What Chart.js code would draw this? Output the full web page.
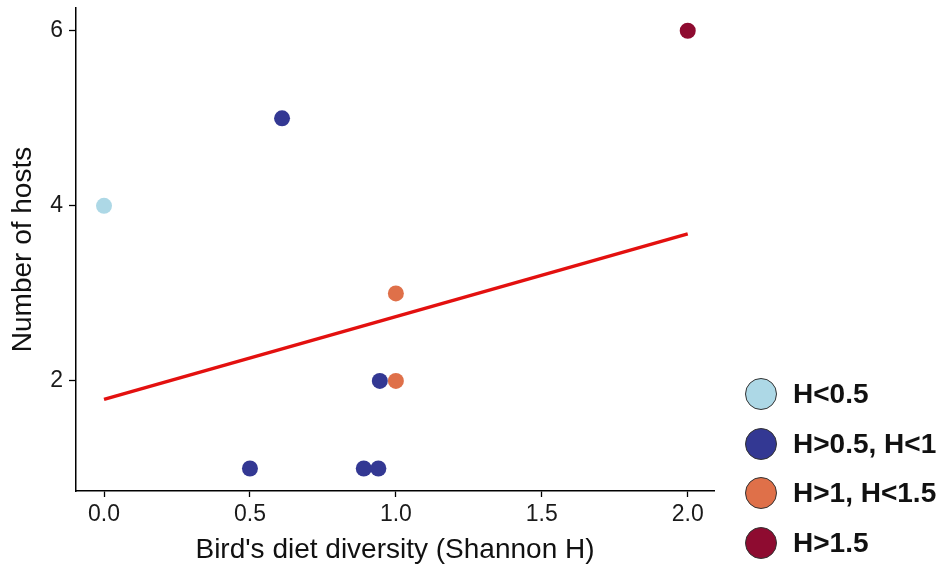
<!DOCTYPE html>
<html>
<head>
<meta charset="utf-8">
<script src="https://cdn.jsdelivr.net/npm/chart.js@4"></script>
<style>
  html, body { margin: 0; padding: 0; background: #fff; }
  #wrap { position: relative; width: 940px; height: 571px; }
  #legend { position: absolute; left: 745px; top: 369px; font: bold 28px "Liberation Sans", Arial, sans-serif; color: #111; }
  .item { display: flex; align-items: center; height: 49.7px; }
  .dot { width: 32px; height: 32px; border-radius: 50%; border: 1.5px solid #333; box-sizing: border-box; margin-right: 16px; }
</style>
</head>
<body>
<div id="wrap">
  <canvas id="chart" width="940" height="571"></canvas>
  <div id="legend"></div>
</div>
<script>
document.addEventListener("DOMContentLoaded", () => {
  // groups of Shannon H
  const groupLabels = ['H<0.5', 'H>0.5, H<1', 'H>1, H<1.5', 'H>1.5'];
  const groupColors = ['#add8e6', '#333893', '#df7049', '#8e0b30'];

  // points per group (diet diversity, number of hosts)
  const lowX = [0.0];
  const lowY = [4];
  const midX = [0.61, 0.50, 0.89, 0.94, 0.945];
  const midY = [5, 1, 1, 1, 2];
  const highX = [1.0, 1.0];
  const highY = [3, 2];
  const topX = [2.0];
  const topY = [6];

  // fitted line
  const fitX = [0, 2.0];
  const fitY = [1.79, 3.68];

  const xTicks = [0, 0.5, 1.0, 1.5, 2.0];
  const yTicks = [2, 4, 6];

  const pts = (xs, ys) => xs.map((x, i) => ({ x: x, y: ys[i] }));
  const groupX = [lowX, midX, highX, topX];
  const groupY = [lowY, midY, highY, topY];

  const datasets = groupLabels.map((label, i) => ({
    type: 'scatter',
    label: label,
    data: pts(groupX[i], groupY[i]),
    backgroundColor: groupColors[i],
    borderWidth: 0,
    pointRadius: 8,
    order: 4 - i
  }));
  datasets.push({
    type: 'line',
    label: 'fit',
    data: pts(fitX, fitY),
    borderColor: '#e3100f',
    borderWidth: 3.5,
    pointRadius: 0,
    order: 10
  });

  const tickFont = { family: '"Liberation Sans", Arial, sans-serif', size: 23 };
  const titleFont = { family: '"Liberation Sans", Arial, sans-serif', size: 28 };

  const ctx = document.getElementById('chart').getContext('2d');
  const chart = new Chart(ctx, {
    data: { datasets: datasets },
    options: {
      responsive: false,
      animation: false,
      layout: { padding: { top: 8, right: 226, left: 0, bottom: 0 } },
      plugins: { legend: { display: false }, tooltip: { enabled: false } },
      scales: {
        x: {
          type: 'linear',
          min: -0.096,
          max: 2.09,
          afterBuildTicks: (axis) => { axis.ticks = xTicks.map(v => ({ value: v })); },
          afterFit: (axis) => { axis.height = 80; axis.paddingLeft = 0; axis.paddingRight = 0; },
          ticks: { font: tickFont, color: '#1a1a1a', padding: 4, callback: (v) => v.toFixed(1) },
          grid: { display: true, drawOnChartArea: false, drawTicks: true, tickLength: 6, color: '#000', tickWidth: 1.3 },
          border: { display: true, color: '#000', width: 1.5 },
          title: { display: true, text: "Bird's diet diversity (Shannon H)", font: titleFont, color: '#111', padding: { top: 0, bottom: 4 } }
        },
        y: {
          type: 'linear',
          min: 0.743,
          max: 6.26,
          afterBuildTicks: (axis) => { axis.ticks = yTicks.map(v => ({ value: v })); },
          afterFit: (axis) => { axis.width = 76; axis.paddingTop = 0; axis.paddingBottom = 0; },
          ticks: { font: tickFont, color: '#1a1a1a', padding: 6 },
          grid: { display: true, drawOnChartArea: false, drawTicks: true, tickLength: 7, color: '#000', tickWidth: 1.3 },
          border: { display: true, color: '#000', width: 1.5 },
          title: { display: true, text: 'Number of hosts', font: titleFont, color: '#111', padding: { top: 6, bottom: 0 } }
        }
      }
    }
  });

  // legend on the right
  const legend = document.getElementById('legend');
  groupLabels.forEach((label, i) => {
    const item = document.createElement('div');
    item.className = 'item';
    const dot = document.createElement('span');
    dot.className = 'dot';
    dot.style.background = groupColors[i];
    const text = document.createElement('span');
    text.textContent = label;
    item.appendChild(dot);
    item.appendChild(text);
    legend.appendChild(item);
  });
});
</script>
</body>
</html>
